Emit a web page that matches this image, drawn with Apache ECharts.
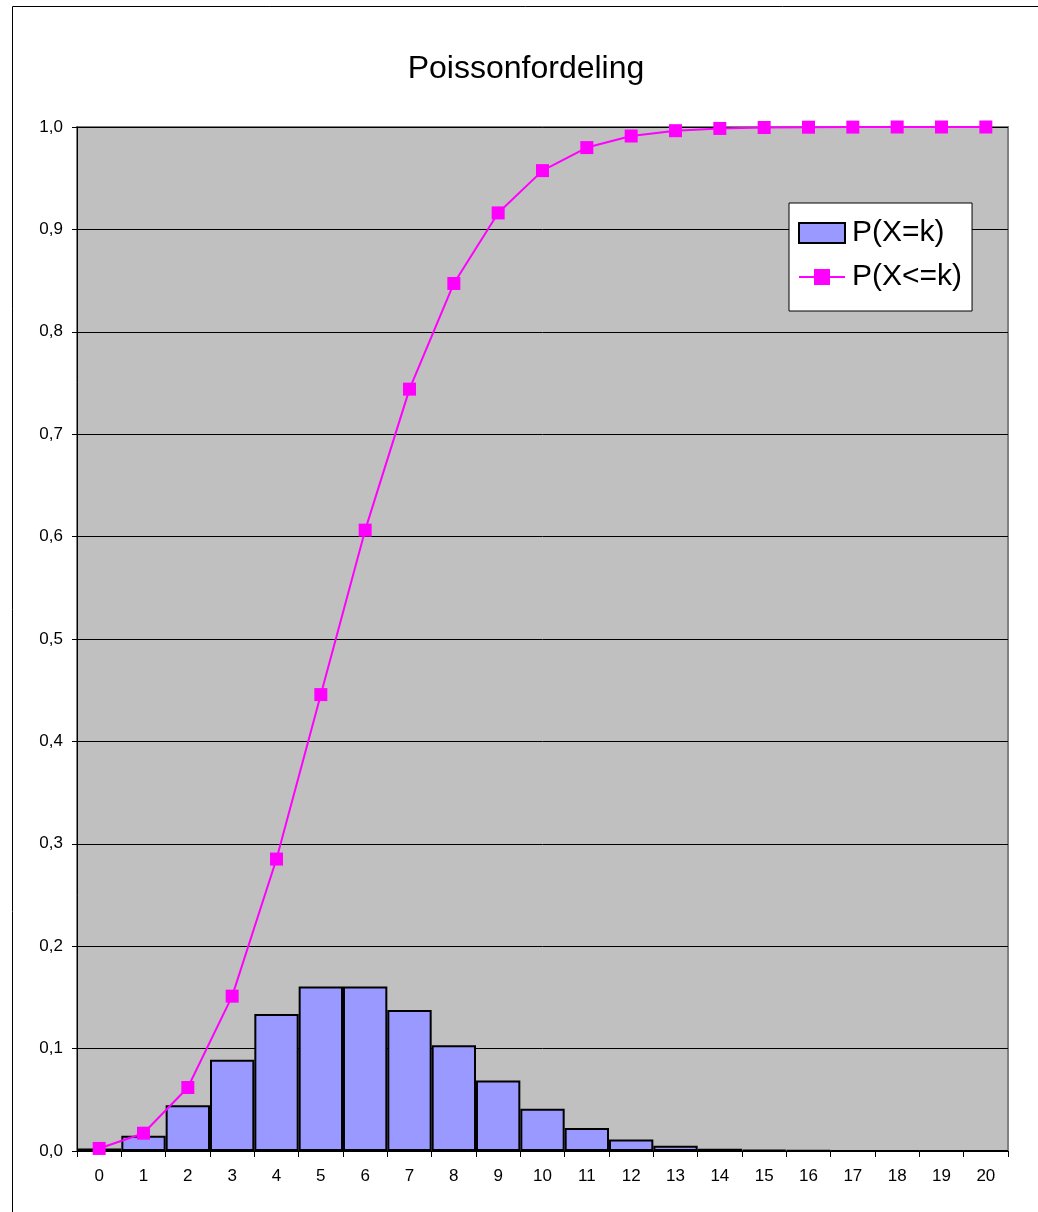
<!DOCTYPE html>
<html>
<head>
<meta charset="utf-8">
<script src="https://cdn.jsdelivr.net/npm/echarts@6/dist/echarts.min.js"></script>
<style>
  html, body { margin: 0; padding: 0; background: #fff; }
  #chart { width: 1038px; height: 1212px; }
</style>
</head>
<body>
<div id="chart"></div>
<script>
// Poisson distribution, k = 0..20
const categories = ['0','1','2','3','4','5','6','7','8','9','10','11','12','13','14','15','16','17','18','19','20'];
const pointProb = [0.0025, 0.0149, 0.0446, 0.0892, 0.1339, 0.1606, 0.1606, 0.1377, 0.1033, 0.0688,
                   0.0413, 0.0225, 0.0113, 0.0052, 0.0022, 0.0009, 0.0003, 0.0001, 0.00004, 0.00001, 0.000004];
const cumProb = [0.0025, 0.0174, 0.0620, 0.1512, 0.2851, 0.4457, 0.6063, 0.7440, 0.8472, 0.9161,
                 0.9574, 0.9799, 0.9912, 0.9964, 0.9986, 0.9995, 0.9998, 0.9999, 1.0000, 1.0000, 1.0000];
const yTicks = [0, 0.1, 0.2, 0.3, 0.4, 0.5, 0.6, 0.7, 0.8, 0.9, 1.0];

const font = 'Liberation Sans, Arial, sans-serif';
const chart = echarts.init(document.getElementById('chart'), null, { renderer: 'canvas' });

chart.setOption({
  animation: false,
  backgroundColor: '#ffffff',
  textStyle: { fontFamily: font },
  title: {
    text: 'Poissonfordeling',
    left: 521,
    textAlign: 'center',
    top: 48,
    textStyle: { fontFamily: font, fontSize: 32, fontWeight: 'normal', color: '#000' }
  },
  graphic: [{
    type: 'rect',
    shape: { x: 12.5, y: 6.5, width: 1100, height: 1300 },
    style: { fill: 'none', stroke: '#000', lineWidth: 1 },
    z: 100
  }],
  legend: {
    orient: 'vertical',
    left: 789,
    top: 203,
    width: 150,
    backgroundColor: '#ffffff',
    borderColor: '#000000',
    borderWidth: 1,
    borderRadius: 0,
    padding: [15, 10, 19, 9],
    itemWidth: 46,
    itemHeight: 20,
    itemGap: 14,
    textStyle: { fontFamily: font, fontSize: 30, color: '#000', padding: [0, 0, 0, 2] },
    data: [
      { name: 'P(X=k)', icon: 'rect' },
      { name: 'P(X<=k)' }
    ]
  },
  grid: {
    left: 77,
    top: 127,
    right: 30,
    bottom: 61,
    show: true,
    backgroundColor: '#C0C0C0',
    borderColor: '#808080',
    borderWidth: 2
  },
  xAxis: {
    type: 'category',
    data: categories,
    boundaryGap: true,
    axisLine: { show: true, lineStyle: { color: '#000', width: 1 } },
    axisTick: { show: true, inside: false, length: 6, lineStyle: { color: '#000' } },
    axisLabel: { fontFamily: font, fontSize: 17, color: '#000', margin: 17, interval: 0 },
    splitLine: { show: false }
  },
  yAxis: {
    type: 'value',
    min: 0,
    max: 1,
    interval: 0.1,
    axisLine: { show: true, lineStyle: { color: '#000', width: 1 } },
    axisTick: { show: true, inside: false, length: 5, lineStyle: { color: '#000' } },
    axisLabel: {
      fontFamily: font, fontSize: 17, color: '#000', margin: 14,
      formatter: v => {
        const t = yTicks.find(x => Math.abs(x - v) < 1e-9);
        return (t !== undefined ? t : v).toFixed(1).replace('.', ',');
      }
    },
    splitLine: { show: true, lineStyle: { color: '#000', width: 1 } }
  },
  series: [
    {
      name: 'P(X=k)',
      type: 'bar',
      data: pointProb,
      barCategoryGap: '0%',
      itemStyle: { color: '#9999FF', borderColor: '#000000', borderWidth: 2 },
      z: 2
    },
    {
      name: 'P(X<=k)',
      type: 'line',
      data: cumProb,
      symbol: 'rect',
      symbolSize: 13,
      lineStyle: { color: '#FF00FF', width: 2 },
      itemStyle: { color: '#FF00FF' },
      z: 3
    }
  ]
});
</script>
</body>
</html>
